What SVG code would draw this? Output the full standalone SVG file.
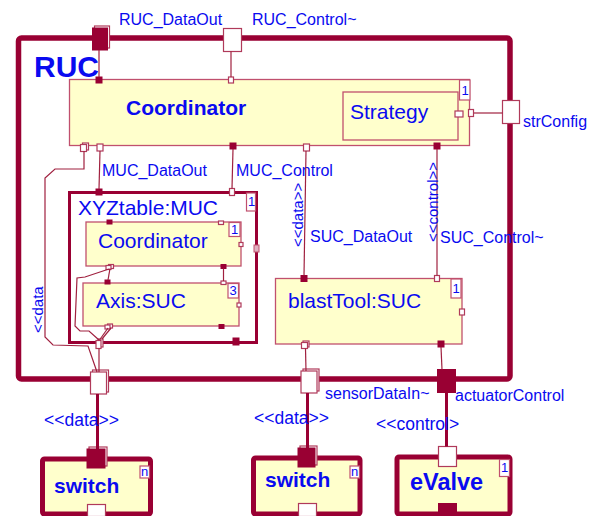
<svg xmlns="http://www.w3.org/2000/svg" width="593" height="516" viewBox="0 0 593 516">
<style>
.frame{fill:none;stroke:#990033;stroke-width:5.5}
.box{fill:#ffffcc;stroke:#c0506e;stroke-width:1.3}
.sub{fill:none;stroke:#990033;stroke-width:3}
.ext{fill:#ffffcc;stroke:#990033;stroke-width:5}
.pw{fill:#fff;stroke:#b03a5a;stroke-width:1.2}
.pf{fill:#990033;stroke:#990033;stroke-width:1}
.ln{fill:none;stroke:#a0203f;stroke-width:1.2}
.tl{fill:none;stroke:#990033;stroke-width:3}
.mbox{fill:#fff;stroke:#c0506e;stroke-width:1.2}
text{font-family:"Liberation Sans",Arial,sans-serif;fill:#0a0af0}
.lbl{font-size:16px}
.st{font-size:15px}
.st2{font-size:17.5px}
.nm{font-size:21px}
.b{font-weight:bold}
.mult{font-size:13px}
</style>

<!-- RUC frame -->
<g id="RUC">
  <rect class="frame" x="18.5" y="38" width="491.5" height="341" rx="3"/>
  <text x="34" y="77" class="b" font-size="30">RUC</text>
  <rect class="pw" x="94.5" y="26" width="15" height="22"/>
  <rect class="pf" x="92.5" y="28" width="15" height="22"/>
  <text x="119" y="25" class="lbl">RUC_DataOut</text>
  <rect class="pw" x="223.5" y="28.5" width="18" height="23"/>
  <text x="252" y="25" class="lbl">RUC_Control~</text>
  <rect class="pw" x="502.5" y="100.5" width="17" height="23"/>
  <text x="523" y="127" class="lbl">strConfig</text>
  <rect class="pw" x="92.5" y="370" width="16" height="22"/>
  <rect class="pw" x="90.5" y="372" width="16" height="22"/>
  <rect class="pw" x="303" y="369" width="16" height="22"/>
  <rect class="pw" x="301" y="371" width="16" height="22"/>
  <text x="325" y="399" class="lbl">sensorDataIn~</text>
  <rect class="pf" x="437.5" y="369.5" width="18" height="23"/>
  <text x="455" y="401" class="lbl">actuatorControl</text>
</g>

<!-- Coordinator -->
<g id="Coordinator">
  <rect class="box" x="69.5" y="79.5" width="400" height="66"/>
  <rect class="mbox" x="459.5" y="80" width="10.5" height="20"/>
  <text x="461.5" y="95" class="mult">1</text>
  <text x="126" y="115" class="b nm">Coordinator</text>
  <rect class="pf" x="96" y="77" width="6" height="6"/>
  <rect class="pw" x="228.5" y="77" width="5" height="6"/>
  <rect class="pw" x="82.5" y="143" width="6" height="7"/>
  <rect class="pw" x="80.5" y="144.5" width="6" height="7"/>
  <rect class="pw" x="97" y="144" width="6" height="7"/>
  <rect class="pf" x="230" y="143" width="6" height="6"/>
  <rect class="pw" x="303.5" y="144" width="6" height="7"/>
  <rect class="pf" x="434" y="143" width="6" height="6"/>
  <rect class="pw" x="468.5" y="109.5" width="5" height="7"/>
</g>

<!-- Strategy -->
<g id="Strategy">
  <rect class="box" x="343" y="92" width="115" height="48"/>
  <text x="350" y="119" class="nm">Strategy</text>
  <rect class="pw" x="455" y="111" width="8" height="6"/>
</g>

<!-- XYZtable:MUC -->
<g id="XYZtable">
  <rect class="sub" x="69.5" y="192.5" width="187" height="150"/>
  <rect class="mbox" x="246.5" y="193" width="9" height="18"/>
  <text x="248" y="206" class="mult">1</text>
  <text x="78" y="215" class="nm">XYZtable:MUC</text>
  <rect class="pf" x="96" y="189" width="6" height="6"/>
  <rect class="pw" x="229.5" y="188.5" width="5" height="7"/>
  <rect x="254" y="245" width="5" height="7" fill="#e0b0c0" stroke="#c0506e" stroke-width="1"/>
  <rect class="pf" x="233" y="338" width="6" height="7"/>
  <rect class="pw" x="98" y="339" width="5" height="8"/>
  <rect class="pw" x="96" y="340.5" width="5" height="8"/>
</g>

<!-- inner Coordinator -->
<g id="InnerCoordinator">
  <rect class="box" x="86" y="222" width="155" height="44"/>
  <rect class="mbox" x="229" y="222.5" width="11" height="14"/>
  <text x="231" y="234" class="mult">1</text>
  <text x="98" y="248" class="nm">Coordinator</text>
  <rect class="pf" x="107" y="220" width="5" height="4"/>
  <rect class="pw" x="218.5" y="221" width="5" height="3.5"/>
  <rect class="pw" x="239" y="242.5" width="4" height="4"/>
  <rect class="pf" x="221" y="264.5" width="5" height="4"/>
  <rect class="pw" x="108.5" y="264.5" width="5" height="4"/>
  <rect class="pw" x="106" y="265.5" width="5" height="4"/>
</g>

<!-- Axis:SUC -->
<g id="Axis">
  <rect class="box" x="83" y="283" width="156" height="43"/>
  <rect class="mbox" x="228" y="283.5" width="10.5" height="14.5"/>
  <text x="229.5" y="295" class="mult">3</text>
  <text x="96" y="308" class="nm">Axis:SUC</text>
  <rect class="pf" x="105" y="280" width="5" height="4"/>
  <rect class="pw" x="221" y="281" width="5" height="3.5"/>
  <rect class="pw" x="237" y="303" width="4" height="4"/>
  <rect class="pf" x="219" y="324.5" width="5" height="4"/>
  <rect class="pw" x="107.5" y="324" width="5" height="4"/>
  <rect class="pw" x="105" y="325" width="5" height="4"/>
</g>

<!-- blastTool:SUC -->
<g id="blastTool">
  <rect class="box" x="275.5" y="278.5" width="186.5" height="65.5"/>
  <rect class="mbox" x="451" y="279" width="10" height="19"/>
  <text x="452.5" y="293" class="mult">1</text>
  <text x="288" y="308" class="nm">blastTool:SUC</text>
  <rect class="pf" x="301" y="275.5" width="6" height="6"/>
  <rect class="pw" x="434.5" y="275.5" width="5" height="6"/>
  <rect class="pw" x="459.5" y="309" width="5" height="6"/>
  <rect class="pw" x="303" y="341" width="6" height="6"/>
  <rect class="pw" x="301.5" y="342.5" width="6" height="6"/>
  <rect class="pf" x="438" y="341" width="6" height="6"/>
</g>

<!-- switch 1 -->
<g id="switch1">
  <rect class="ext" x="42.5" y="459" width="108" height="55" rx="2"/>
  <rect class="mbox" x="140" y="466" width="9.5" height="12"/>
  <text x="141" y="476" class="mult">n</text>
  <text x="54" y="493" class="b nm">switch</text>
  <rect class="pw" x="89" y="447" width="18" height="19"/>
  <rect class="pf" x="87" y="449" width="18" height="19"/>
  <rect class="pw" x="87.5" y="504.5" width="18" height="12"/>
</g>

<!-- switch 2 -->
<g id="switch2">
  <rect class="ext" x="253.5" y="458" width="106.5" height="56" rx="2"/>
  <rect class="mbox" x="350" y="466" width="9.5" height="12"/>
  <text x="351" y="476" class="mult">n</text>
  <text x="265" y="487" class="b nm">switch</text>
  <rect class="pw" x="300" y="446" width="17" height="19"/>
  <rect class="pf" x="298" y="448" width="17" height="19"/>
  <rect class="pw" x="298.5" y="503.5" width="18" height="13"/>
</g>

<!-- eValve -->
<g id="eValve">
  <rect class="ext" x="397" y="457" width="113" height="57" rx="2"/>
  <rect class="mbox" x="499.5" y="459.5" width="10" height="17"/>
  <text x="501" y="472" class="mult">1</text>
  <text x="410" y="490" class="b" font-size="23.5px">eValve</text>
  <rect class="pw" x="438.5" y="446.5" width="18" height="20"/>
  <rect class="pf" x="438.5" y="503.5" width="18" height="13"/>
</g>

<!-- connectors -->
<g id="connectors">
  <line class="ln" x1="99" y1="50" x2="99" y2="77"/>
  <line class="ln" x1="231" y1="51.5" x2="231" y2="77"/>
  <line class="ln" x1="474" y1="113" x2="502.5" y2="113"/>
  <line class="ln" x1="100" y1="151" x2="99" y2="189"/>
  <text x="102" y="176" class="lbl">MUC_DataOut</text>
  <line class="ln" x1="233" y1="149" x2="232" y2="188.5"/>
  <text x="236" y="176" class="lbl">MUC_Control</text>
  <line class="ln" x1="306" y1="151" x2="304" y2="275.5"/>
  <text transform="translate(303,247) rotate(-90)" class="st">&lt;&lt;data&gt;&gt;</text>
  <text x="310" y="242" class="lbl">SUC_DataOut</text>
  <line class="ln" x1="437" y1="149" x2="437" y2="275.5"/>
  <text transform="translate(438,242) rotate(-90)" class="st">&lt;&lt;control&gt;&gt;</text>
  <text x="440" y="243" class="lbl">SUC_Control~</text>
  <polyline class="ln" points="84,151 84,169 55,169 45,178 45,337 53,345 88,346 97,372"/>
  <text transform="translate(43,333) rotate(-90)" class="st">&lt;&lt;data</text>
  <line class="ln" x1="110" y1="268.5" x2="108" y2="280"/>
  <line class="ln" x1="223.5" y1="268.5" x2="223.5" y2="281"/>
  <polyline class="ln" points="109,269 85,277 77,278 75,326 80,331 89,331 99,340"/>
  <line class="ln" x1="108" y1="328" x2="99.5" y2="340"/>
  <line class="ln" x1="111" y1="328" x2="102" y2="339"/>
  <line class="ln" x1="99" y1="348.5" x2="99" y2="372"/>
  <line class="ln" x1="305.5" y1="348.5" x2="306" y2="371"/>
  <line class="ln" x1="441" y1="347" x2="442" y2="369.5"/>
  <line class="tl" x1="97.5" y1="394" x2="97.5" y2="449"/>
  <text x="44" y="426" class="st2">&lt;&lt;data&gt;&gt;</text>
  <line class="tl" x1="307.5" y1="393" x2="307.5" y2="448"/>
  <text x="254" y="424" class="st2">&lt;&lt;data&gt;&gt;</text>
  <line class="tl" x1="446.5" y1="392.5" x2="446.5" y2="446.5"/>
  <text x="376" y="430" class="st2">&lt;&lt;control&gt;</text>
</g>
</svg>
